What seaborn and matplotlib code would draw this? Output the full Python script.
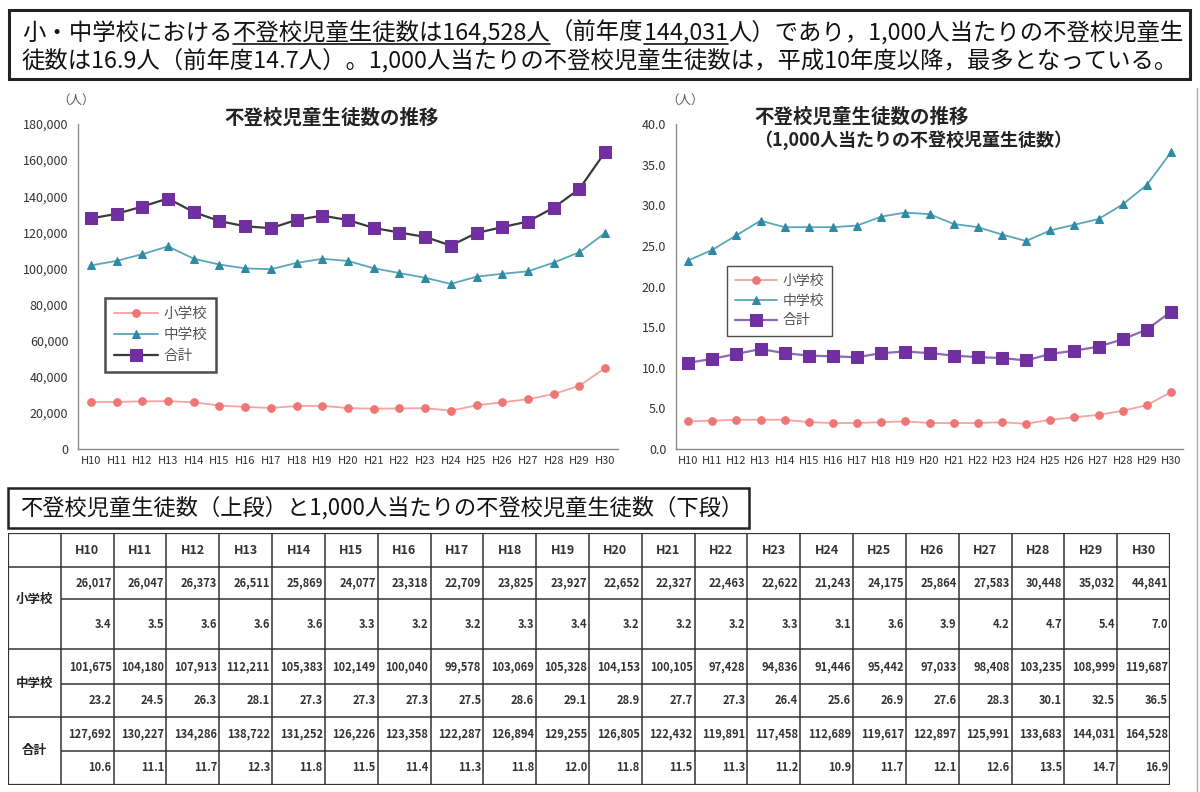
import numpy as np
import pandas as pd
import matplotlib
matplotlib.use("Agg")
import matplotlib.pyplot as plt
import seaborn as sns
from matplotlib.lines import Line2D
from matplotlib.patches import Rectangle

# DATA ===========================================================================
years = ["H10", "H11", "H12", "H13", "H14", "H15", "H16", "H17", "H18", "H19", "H20",
         "H21", "H22", "H23", "H24", "H25", "H26", "H27", "H28", "H29", "H30"]
school_names = ["小学校", "中学校", "合計"]

elem_count = [26017, 26047, 26373, 26511, 25869, 24077, 23318, 22709, 23825, 23927, 22652,
              22327, 22463, 22622, 21243, 24175, 25864, 27583, 30448, 35032, 44841]
junior_count = [101675, 104180, 107913, 112211, 105383, 102149, 100040, 99578, 103069, 105328, 104153,
                100105, 97428, 94836, 91446, 95442, 97033, 98408, 103235, 108999, 119687]
total_count = [127692, 130227, 134286, 138722, 131252, 126226, 123358, 122287, 126894, 129255, 126805,
               122432, 119891, 117458, 112689, 119617, 122897, 125991, 133683, 144031, 164528]

elem_rate = [3.4, 3.5, 3.6, 3.6, 3.6, 3.3, 3.2, 3.2, 3.3, 3.4, 3.2,
             3.2, 3.2, 3.3, 3.1, 3.6, 3.9, 4.2, 4.7, 5.4, 7.0]
junior_rate = [23.2, 24.5, 26.3, 28.1, 27.3, 27.3, 27.3, 27.5, 28.6, 29.1, 28.9,
               27.7, 27.3, 26.4, 25.6, 26.9, 27.6, 28.3, 30.1, 32.5, 36.5]
total_rate = [10.6, 11.1, 11.7, 12.3, 11.8, 11.5, 11.4, 11.3, 11.8, 12.0, 11.8,
              11.5, 11.3, 11.2, 10.9, 11.7, 12.1, 12.6, 13.5, 14.7, 16.9]

headline_1 = [("小・中学校における", False), ("不登校児童生徒数は164,528人", True), ("（前年度", False),
              ("144,031", True), ("人）であり，1,000人当たりの不登校児童生", False)]
headline_2 = [("徒数は16.9人（前年度14.7人）。1,000人当たりの不登校児童生徒数は，平成10年度以降，最多となっている。", False)]
table_title = "不登校児童生徒数（上段）と1,000人当たりの不登校児童生徒数（下段）"

# STYLE ==========================================================================
sns.set_style("white")
plt.rcParams['font.family'] = ['Noto Sans CJK JP', 'DejaVu Sans']

W, H = 1200, 792
fig = plt.figure(figsize=(W / 100, H / 100), dpi=100)
fig.patch.set_facecolor("white")


def box(x0, y0, x1, y1):
    # pixel box (top-left origin) -> figure fraction
    return [x0 / W, 1 - y1 / H, (x1 - x0) / W, (y1 - y0) / H]


ELEM_LINE, ELEM_MK = "#F5A3A3", "#F07575"
JUN_LINE, JUN_MK = "#5AA6BB", "#2F8AA3"
TOT_MK = "#7030A0"
AXIS_C = "#8a8a8a"


def draw_chart(ax, values, ymax, ystep, fmt, total_line_c, total_ms, legend_anchor, legend_lw,
               legend_size, legend_space):
    x = np.arange(len(years))
    styles = [
        (ELEM_LINE, "o", ELEM_MK, 5.5, 1.3),
        (JUN_LINE, "^", JUN_MK, 5.5, 1.3),
        (total_line_c, "s", TOT_MK, total_ms, 1.6),
    ]
    for name, vals, (lc, mk, mc, ms, lw) in zip(school_names, values, styles):
        sns.lineplot(x=x, y=vals, ax=ax, color=lc, lw=lw, marker=mk, markersize=ms,
                     markerfacecolor=mc, markeredgecolor=mc, label=name)
    ax.set_xlim(-0.5, len(years) - 0.5)
    ax.set_ylim(0, ymax)
    ax.set_xticks(x, years, fontsize=8, color="#333333")
    ax.set_xticks(np.arange(len(years) + 1) - 0.5, minor=True)
    ax.tick_params(axis="x", which="major", length=0, pad=5)
    ax.tick_params(axis="x", which="minor", length=4, direction="in", color=AXIS_C)
    yt = np.arange(0, ymax + ystep / 2, ystep)
    ax.set_yticks(yt, [fmt(v) for v in yt], fontsize=9, color="#333333")
    ax.tick_params(axis="y", length=4, direction="out", color=AXIS_C, pad=3)
    for s in ["top", "right"]:
        ax.spines[s].set_visible(False)
    for s in ["left", "bottom"]:
        ax.spines[s].set_color(AXIS_C)
        ax.spines[s].set_linewidth(1)
    ax.set_xlabel("")
    ax.set_ylabel("")
    h, l = ax.get_legend_handles_labels()
    leg = ax.legend(h, l, loc="upper left", bbox_to_anchor=legend_anchor, borderaxespad=0,
                    fontsize=legend_size, frameon=True, fancybox=False, handlelength=3.0,
                    labelspacing=legend_space, borderpad=0.6, handletextpad=0.4)
    leg.get_frame().set_edgecolor("#222222")
    leg.get_frame().set_linewidth(legend_lw)
    for t in leg.get_texts():
        t.set_color("#555555")


# left chart: counts
ax1 = fig.add_axes(box(78, 124, 618, 449))
draw_chart(ax1, [elem_count, junior_count, total_count], 180000, 20000,
           lambda v: f"{int(v):,}", "#3a3a3a", 9, (0.05, 0.465), 1.8, 10.5, 0.5)
fig.text(76 / W, 1 - 100 / H, "（人）", ha="center", va="center", fontsize=9, color="#555555")
fig.text(332 / W, 1 - 118 / H, "不登校児童生徒数の推移", ha="center", va="center",
         fontsize=14, weight="bold", color="#222222")

# right chart: per 1,000
ax2 = fig.add_axes(box(676, 124, 1183, 449))
draw_chart(ax2, [elem_rate, junior_rate, total_rate], 40, 5,
           lambda v: f"{v:.1f}", "#8C68B8", 8, (0.10, 0.563), 1.0, 10, 0.4)
fig.text(685 / W, 1 - 100 / H, "（人）", ha="center", va="center", fontsize=9, color="#555555")
fig.text(862 / W, 1 - 117 / H, "不登校児童生徒数の推移", ha="center", va="center",
         fontsize=14, weight="bold", color="#222222")
fig.text(913 / W, 1 - 140 / H, "（1,000人当たりの不登校児童生徒数）", ha="center", va="center",
         fontsize=13, weight="bold", color="#222222")

# headline box ===================================================================
fig.patches.append(Rectangle((9 / W, 1 - 79 / H), 1181 / W, 69 / H, transform=fig.transFigure,
                             fill=False, edgecolor="#222222", linewidth=2.2))
renderer = fig.canvas.get_renderer()


def draw_segments(segments, x_px, y_px, size):
    for seg, underline in segments:
        t = fig.text(x_px / W, 1 - y_px / H, seg, ha="left", va="center", fontsize=size,
                     color="#111111")
        bb = t.get_window_extent(renderer)
        if underline:
            fig.add_artist(Line2D([bb.x0 / W, bb.x1 / W], [(bb.y0 + 1) / H, (bb.y0 + 1) / H],
                                  transform=fig.transFigure, color="#111111", lw=1.2))
        x_px = bb.x1


draw_segments(headline_1, 22, 33, 16.8)
draw_segments(headline_2, 22, 61, 16.8)

# table title box ================================================================
fig.patches.append(Rectangle((8 / W, 1 - 528 / H), 741 / W, 40 / H, transform=fig.transFigure,
                             fill=False, edgecolor="#222222", linewidth=1.8))
fig.text(20 / W, 1 - 508 / H, table_title, ha="left", va="center", fontsize=16, color="#111111")

# table ==========================================================================
ax3 = fig.add_axes(box(8, 533, 1170, 785))
row_h = [34, 32, 50, 34, 33, 34, 34]
row_edges = np.concatenate([[0], np.cumsum(row_h)])
ncol = len(years) + 1
ax3.set_xlim(0, ncol)
ax3.set_ylim(row_edges[-1], 0)
ax3.axis("off")
grid_c = "#333333"
ax3.vlines(np.arange(ncol + 1), 0, row_edges[-1], color=grid_c, lw=1.1)
ax3.hlines([row_edges[0], row_edges[1], row_edges[3], row_edges[5], row_edges[7]], 0, ncol,
           color=grid_c, lw=1.1)
ax3.hlines([row_edges[2], row_edges[4], row_edges[6]], 1, ncol, color=grid_c, lw=1.1)
ax3.add_patch(Rectangle((0, 0), ncol, row_edges[-1], fill=False, edgecolor=grid_c, lw=1.6))

for i, yr in enumerate(years):
    ax3.text(i + 1.5, row_h[0] / 2, yr, ha="center", va="center", fontsize=9,
             weight="bold", color="#333333")

counts = [elem_count, junior_count, total_count]
rates = [elem_rate, junior_rate, total_rate]
for g, name in enumerate(school_names):
    r_top = 1 + 2 * g
    ax3.text(0.5, row_edges[r_top + 1], name, ha="center", va="center", fontsize=9,
             weight="bold", color="#222222")
    yc1 = (row_edges[r_top] + row_edges[r_top + 1]) / 2
    yc2 = (row_edges[r_top + 1] + row_edges[r_top + 2]) / 2
    for i in range(len(years)):
        ax3.text(i + 2 - 0.04, yc1, f"{counts[g][i]:,}", ha="right", va="center",
                 fontsize=8, weight="bold", color="#333333")
        ax3.text(i + 2 - 0.04, yc2, f"{rates[g][i]:.1f}", ha="right", va="center",
                 fontsize=8, weight="bold", color="#333333")

# faint page edge on the right
fig.add_artist(Line2D([1197 / W, 1197 / W], [0, 1 - 88 / H], transform=fig.transFigure,
                      color="#aaaaaa", lw=1))

plt.savefig("out.png", dpi=100)
